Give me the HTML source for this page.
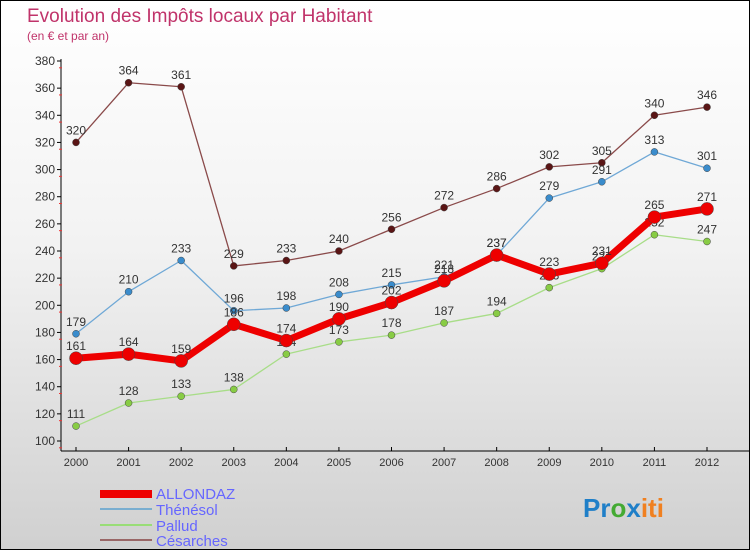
<!DOCTYPE html>
<html><head><meta charset="utf-8"><style>
body{margin:0;}
#c{width:750px;height:550px;position:relative;overflow:hidden;box-sizing:border-box;border:1px solid #000;background:linear-gradient(#ffffff 0%,#f2f2f2 45%,#d0d0d0 100%);font-family:"Liberation Sans",sans-serif;}
</style></head><body>
<div id="c">
<svg id="s" width="750" height="550" style="position:absolute;left:0;top:0">
<text x="26" y="21" font-size="19" fill="#c0336a">Evolution des Impôts locaux par Habitant</text>
<text x="26" y="39" font-size="12" fill="#c0336a">(en € et par an)</text>
<g id="axes"></g><g id="series"></g>
<g id="legend">
<rect x="99" y="489" width="52" height="8" fill="#e00"/>
<text x="155" y="498" font-size="15" fill="#6666ff">ALLONDAZ</text>
<line x1="99" y1="508" x2="151" y2="508" stroke="#7aaed0" stroke-width="2"/>
<text x="155" y="514" font-size="15" fill="#6666ff">Thénésol</text>
<line x1="99" y1="524" x2="151" y2="524" stroke="#99dd77" stroke-width="2"/>
<text x="155" y="530" font-size="15" fill="#6666ff">Pallud</text>
<line x1="99" y1="539" x2="151" y2="539" stroke="#996666" stroke-width="2"/>
<text x="155" y="545" font-size="15" fill="#6666ff">Césarches</text>
</g>
<text x="582" y="516" font-size="26" font-weight="bold"><tspan fill="#1f7fc8">Pr</tspan><tspan fill="#44aa33">o</tspan><tspan fill="#1f7fc8">x</tspan><tspan fill="#f08020">iti</tspan></text>
</svg>
</div>
<script>
const years=[2000,2001,2002,2003,2004,2005,2006,2007,2008,2009,2010,2011,2012];
const allondaz=[161,164,159,186,174,190,202,218,237,223,231,265,271];
const thenesol=[179,210,233,196,198,208,215,221,237,279,291,313,301];
const pallud=[111,128,133,138,164,173,178,187,194,213,227,252,247];
const cesarches=[320,364,361,229,233,240,256,272,286,302,305,340,346];
const yTicks=[100,120,140,160,180,200,220,240,260,280,300,320,340,360,380];
const NS="http://www.w3.org/2000/svg";
const xS=i=>75+i*(706-75)/12;
const yS=v=>440-(v-100)*(380/280);
function mk(t,a,p){const e=document.createElementNS(NS,t);for(const k in a)e.setAttribute(k,a[k]);p.appendChild(e);return e;}
const ax=document.getElementById('axes'),sr=document.getElementById('series');
const ya=mk('line',{x1:60,y1:58,x2:60,y2:450,stroke:'#000'},ax);


const xa=mk('line',{x1:60,y1:450,x2:748,y2:450,stroke:'#000'},ax);


yTicks.forEach(v=>{const y=yS(v);
mk('line',{x1:56,y1:y,x2:60,y2:y,stroke:'#000'},ax);
mk('line',{x1:58,y1:y+6.8,x2:61,y2:y+6.8,stroke:'#e33'},ax);
const t=mk('text',{x:54,y:y+4,'text-anchor':'end','font-size':12,fill:'#333'},ax);t.textContent=v;

});
years.forEach((yr,i)=>{const x=xS(i);
mk('line',{x1:x,y1:446,x2:x,y2:450,stroke:'#000'},ax);
const t=mk('text',{x:x,y:465,'text-anchor':'middle','font-size':11,fill:'#333'},ax);t.textContent=yr;

});
function series(d,name,col,w,r,dot){
const g=mk('g',{},sr);


mk('polyline',{points:d.map((v,i)=>xS(i)+','+yS(v)).join(' '),fill:'none',stroke:col,'stroke-width':w,'stroke-linejoin':'round'},g);
d.forEach((v,i)=>{const c=mk('circle',{cx:xS(i),cy:yS(v),r:r,fill:dot,stroke:'#444','stroke-width':0.5},g);


const t=mk('text',{x:xS(i),y:yS(v)-8,'text-anchor':'middle','font-size':12,fill:'#333'},g);t.textContent=v;

});}
series(cesarches,'cesarches','#8a4a4a',1.3,3.5,'#5a1515');
series(pallud,'pallud','#a8dd88',1.3,3.5,'#88cc44');
series(thenesol,'thenesol','#6fa8d6',1.3,3.5,'#3a8ccc');
series(allondaz,'allondaz','#ee0000',7,6.5,'#ee0000');
</script>
</body></html>
